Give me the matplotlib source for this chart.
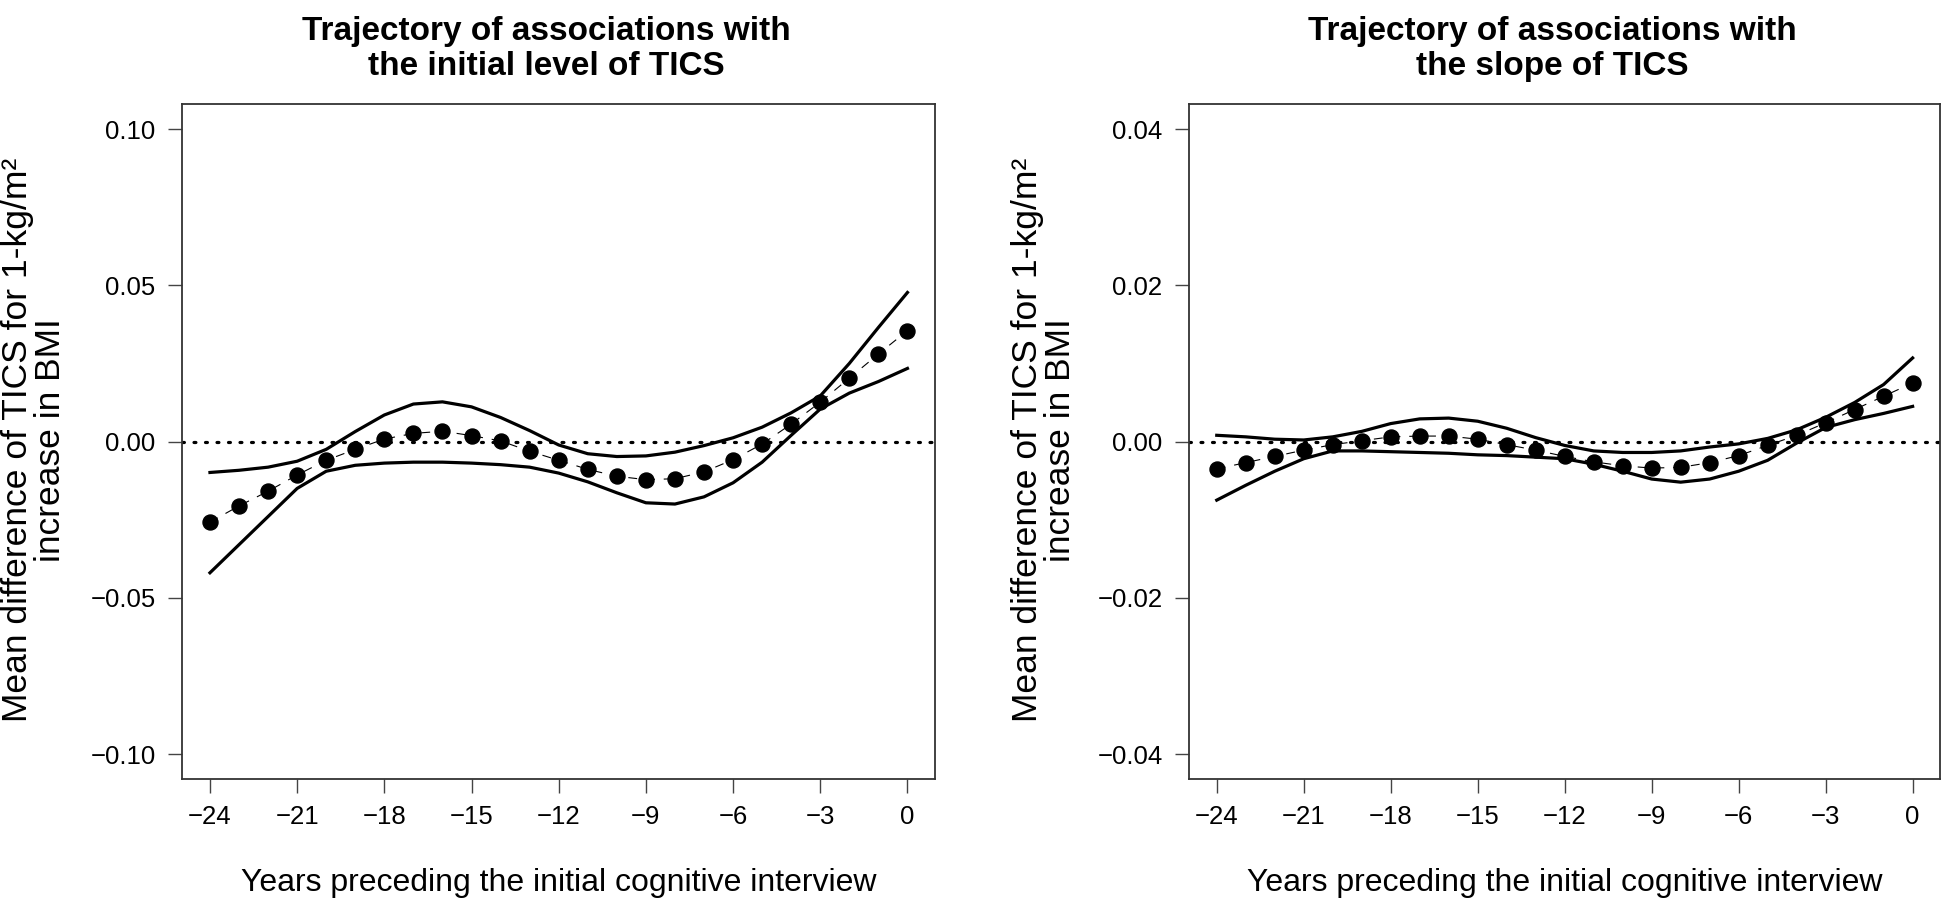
import matplotlib
matplotlib.use('Agg')
import matplotlib.pyplot as plt

# Values (yearly points, -24 .. 0)
years = list(range(-24, 1))

level_est = [-0.0258, -0.0206, -0.0159, -0.0107, -0.0060, -0.0025, 0.0008, 0.0026, 0.0033,
             0.0019, 0.0002, -0.0031, -0.0060, -0.0089, -0.0111, -0.0122, -0.0119, -0.0097,
             -0.0058, -0.0008, 0.0056, 0.0126, 0.0203, 0.0280, 0.0355]
level_upper = [-0.0099, -0.0092, -0.0082, -0.0063, -0.0025, 0.0032, 0.0085, 0.0120, 0.0127,
               0.0111, 0.0077, 0.0035, -0.0011, -0.0039, -0.0048, -0.0046, -0.0034, -0.0013,
               0.0012, 0.0046, 0.0092, 0.0146, 0.0250, 0.0365, 0.0477]
level_lower = [-0.0420, -0.0330, -0.0240, -0.0150, -0.0095, -0.0076, -0.0069, -0.0066, -0.0066,
               -0.0069, -0.0074, -0.0082, -0.0101, -0.0129, -0.0164, -0.0196, -0.0200, -0.0177,
               -0.0132, -0.0066, 0.0020, 0.0104, 0.0155, 0.0192, 0.0234]

slope_est = [-0.0035, -0.0027, -0.0019, -0.0011, -0.0004, 0.0001, 0.0006, 0.0007, 0.0007,
             0.0003, -0.0004, -0.0011, -0.0019, -0.0026, -0.0031, -0.0034, -0.0033, -0.0027,
             -0.0018, -0.0005, 0.0008, 0.0024, 0.0041, 0.0058, 0.0075]
slope_upper = [0.0008, 0.0006, 0.0003, 0.0002, 0.0006, 0.0013, 0.0023, 0.0029, 0.0030,
               0.0026, 0.0017, 0.0005, -0.0005, -0.0012, -0.0014, -0.0014, -0.0012, -0.0007,
               -0.0003, 0.0004, 0.0015, 0.0031, 0.0050, 0.0073, 0.0107]
slope_lower = [-0.0075, -0.0056, -0.0038, -0.0022, -0.0012, -0.0012, -0.0013, -0.0014, -0.0015,
               -0.0017, -0.0018, -0.0020, -0.0022, -0.0029, -0.0038, -0.0048, -0.0052, -0.0048,
               -0.0038, -0.0024, -0.0002, 0.0018, 0.0028, 0.0036, 0.0045]

titles = ['Trajectory of associations with\nthe initial level of TICS',
          'Trajectory of associations with\nthe slope of TICS']
yticks_level = [-0.10, -0.05, 0.00, 0.05, 0.10]
yticks_slope = [-0.04, -0.02, 0.00, 0.02, 0.04]
xticks = [-24, -21, -18, -15, -12, -9, -6, -3, 0]

xlabel = 'Years preceding the initial cognitive interview'
ylabel = 'Mean difference of TICS for 1-kg/m\u00b2\nincrease in BMI'

plt.rcParams['font.family'] = ['Liberation Sans', 'DejaVu Sans']

fig = plt.figure(figsize=(19.43, 9.0), dpi=100)
ax1 = fig.add_axes([0.0937, 0.1344, 0.3877, 0.7500])
ax2 = fig.add_axes([0.6119, 0.1344, 0.3868, 0.7500])

panels = [
    (ax1, level_est, level_upper, level_lower, yticks_level, titles[0], 0.0175),
    (ax2, slope_est, slope_upper, slope_lower, yticks_slope, titles[1], 0.5373),
]

for ax, est, up, lo, yt, title, ylab_x in panels:
    ymax = yt[-1] * 1.08
    # reference line at zero
    ax.axhline(0, color='k', lw=2.3, ls=(0, (0.6, 3.0)), dash_capstyle='round', zorder=1)
    # confidence limits
    ax.plot(years, up, color='k', lw=2.3, zorder=2)
    ax.plot(years, lo, color='k', lw=2.3, zorder=2)
    # point estimates
    ax.plot(years, est, color='k', lw=0.8, ls=(0, (8, 8)), zorder=3)
    ax.plot(years, est, 'o', color='k', ms=10.8, zorder=4)
    ax.set_xlim(-24.96, 0.96)
    ax.set_ylim(-ymax, ymax)
    ax.set_xticks(xticks)
    ax.set_yticks(yt)
    ax.set_xticklabels([str(x).replace('-', '\u2212') for x in xticks], fontsize=18.5)
    ax.set_yticklabels([('%.2f' % v).replace('-', '\u2212') for v in yt], fontsize=18.5)
    ax.tick_params(direction='out', length=10, width=1.0, color='#444444', pad=9)
    for sp in ax.spines.values():
        sp.set_linewidth(1.3)
        sp.set_color('#333333')
    ax.set_title(title, fontweight='bold', fontsize=24, pad=21, linespacing=1.15, x=0.483)
    ax.set_xlabel(xlabel, fontsize=23, labelpad=28)
    fig.text(ylab_x, 0.511, ylabel, rotation=90, ha='center', va='center',
             multialignment='center', fontsize=25.5, linespacing=0.97)

fig.savefig('out.png', dpi=100)
